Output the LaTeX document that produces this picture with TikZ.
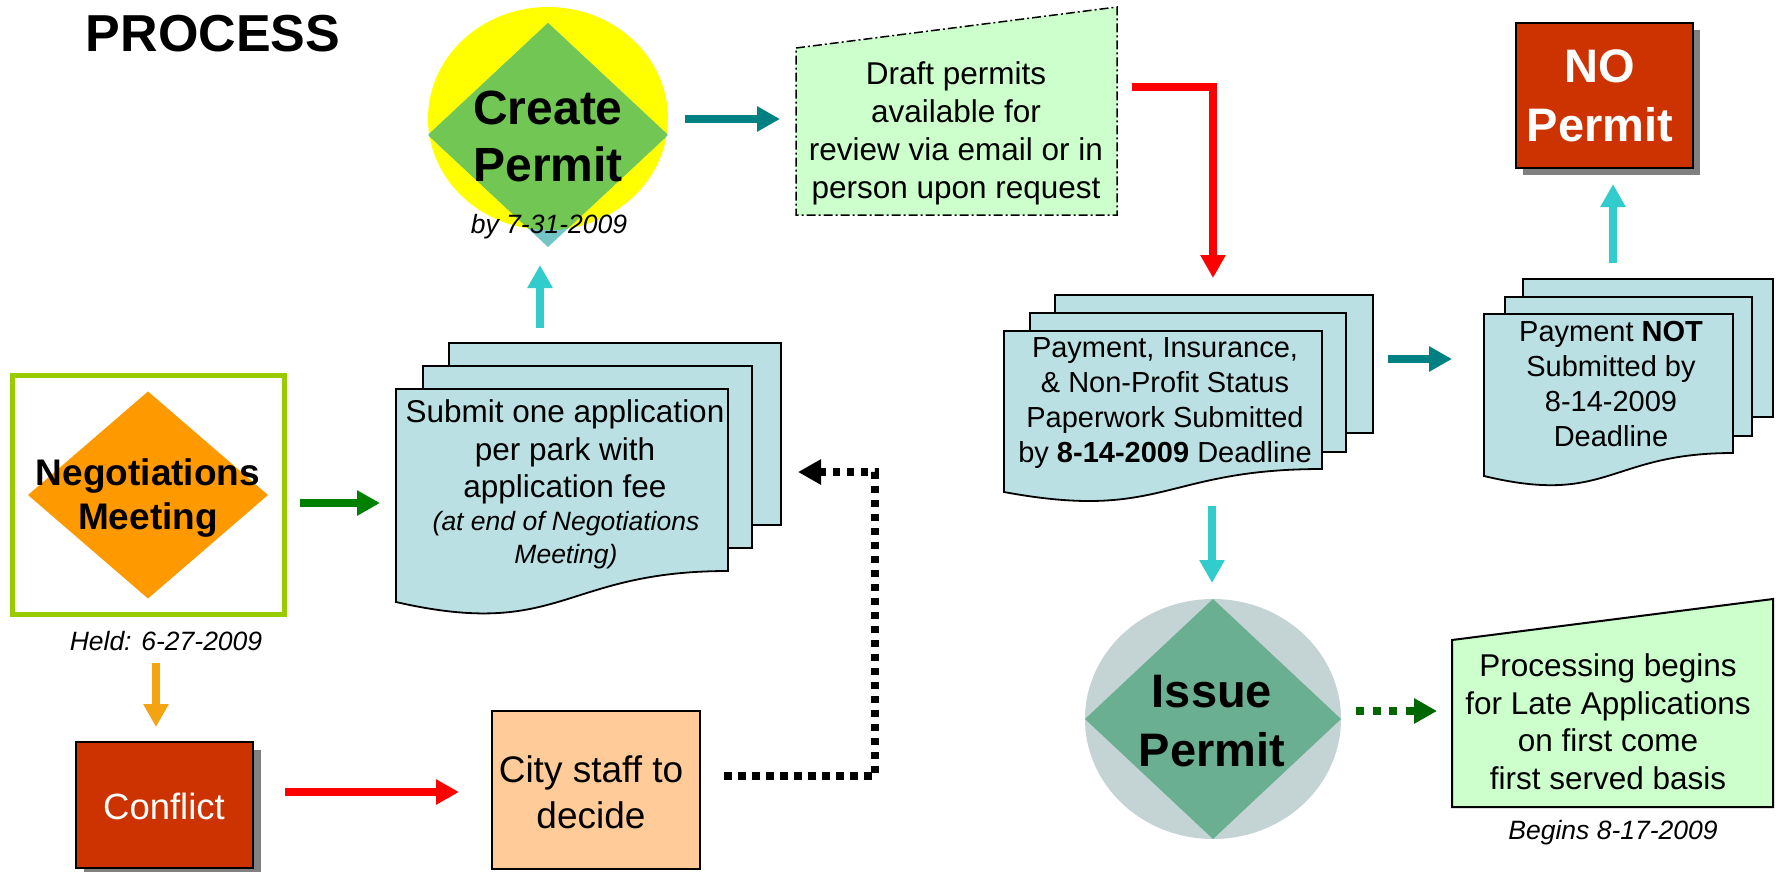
\documentclass[tikz,border=0pt]{standalone}
\usepackage{fontspec}
\setmainfont{Liberation Sans}
\usetikzlibrary{arrows.meta,shapes.geometric}
\definecolor{cpyellow}{RGB}{255,255,0}
\definecolor{cpgreen}{RGB}{114,198,83}
\definecolor{cptip}{RGB}{116,198,198}
\definecolor{tealc}{RGB}{0,128,128}
\definecolor{draftgreen}{RGB}{204,255,204}
\definecolor{docblue}{RGB}{187,224,227}
\definecolor{cyanc}{RGB}{51,204,204}
\definecolor{brick}{RGB}{204,51,0}
\definecolor{shadowgray}{RGB}{128,128,128}
\definecolor{neggreen}{RGB}{153,204,0}
\definecolor{negorange}{RGB}{255,153,0}
\definecolor{arrgreen}{RGB}{0,128,0}
\definecolor{arrorange}{RGB}{243,164,16}
\definecolor{cityfill}{RGB}{255,204,153}
\definecolor{issuegray}{RGB}{196,211,211}
\definecolor{issuegreen}{RGB}{107,175,146}
\definecolor{dkgreen}{RGB}{0,102,0}
\begin{document}
\begin{tikzpicture}[x=1pt,y=-1pt,
  blk/.style={line width=8pt,-{Triangle[width=24pt,length=23pt]}},
  dotarr/.style={line width=7.5pt,dash pattern=on 7.5pt off 6.5pt,-{Triangle[width=24pt,length=23pt]}},
  txt/.style={align=center,inner sep=0pt,text=black},
  docpg/.style={fill=docblue,draw=black,line width=1.8pt},
  plainbox/.style={draw=black,line width=1.6pt,inner sep=0pt},
  shapeonly/.style={inner sep=0pt,outer sep=0pt}]
\useasboundingbox (0,0) rectangle (1776,871);
\fill[white] (0,0) rectangle (1776,871);

% title
\node[txt,font=\fontsize{52}{60}\selectfont\bfseries] (title) at (213,34) {PROCESS};

% Create permit
\node[shapeonly,ellipse,fill=cpyellow,minimum width=240pt,minimum height=223pt] (cpell) at (548,118.5) {};
\node[shapeonly,diamond,fill=cptip,minimum width=240pt,minimum height=224pt] (cpdia) at (548,135) {};
\begin{scope}
\clip (548,118.5) ellipse [x radius=120,y radius=111.5];
\fill[cpgreen] (cpdia.north) -- (cpdia.east) -- (cpdia.south) -- (cpdia.west) -- cycle;
\end{scope}
\node[txt,font=\fontsize{48}{57}\selectfont\bfseries] (cptext) at (548,136) {Create\\Permit};
\node[txt,font=\fontsize{26.5}{30}\selectfont\itshape] (cpdate) at (549,227) {by 7-31-2009};

% Draft permits
\filldraw[fill=draftgreen,draw=black,line width=1.5pt,dash pattern=on 9pt off 3pt on 2pt off 3pt] (796,48) -- (1117,7) -- (1117,215) -- (796,215) -- cycle;
\node[txt,font=\fontsize{31.5}{38}\selectfont] (draft) at (956,133) {Draft permits\\available for\\review via email or in\\person upon request};

% NO permit
\fill[shadowgray] (1523,30) rectangle (1700,175);
\node[plainbox,fill=brick,minimum width=177pt,minimum height=145pt] (nobox) at (1604.5,95.5) {};
\node[txt,text=white,font=\fontsize{47}{59}\selectfont\bfseries] (notext) at (1600,95.5) {NO\\Permit};

% Payment stack
\draw[docpg] (1055,295) rectangle (1373,433);
\draw[docpg] (1030,313) rectangle (1346,452);
\draw[docpg] (1004,331) -- (1322,331) -- (1322,469) .. controls (1163,469) and (1163,521.5) .. (1004,492) -- cycle;
\node[txt,font=\fontsize{29}{35}\selectfont] (pay) at (1165,403) {Payment, Insurance,\\\& Non-Profit Status\\Paperwork Submitted\\by \textbf{8-14-2009} Deadline};

% Payment NOT stack
\draw[docpg] (1523,279) rectangle (1773,417);
\draw[docpg] (1505,297) rectangle (1752,436);
\draw[docpg] (1484,314) -- (1733,314) -- (1733,453) .. controls (1608.5,453) and (1608.5,506) .. (1484,476) -- cycle;
\node[txt,font=\fontsize{29}{35}\selectfont] (paynot) at (1611,384) {Payment \textbf{NOT}\\Submitted by\\8-14-2009\\Deadline};

% Negotiations
\node[shapeonly,draw=neggreen,line width=5pt,minimum width=272pt,minimum height=239pt] (negbox) at (148.5,495) {};
\node[shapeonly,diamond,fill=negorange,minimum width=240pt,minimum height=207pt] (negdia) at (148,495) {};
\node[txt,font=\fontsize{37}{44}\selectfont\bfseries] (negtxt) at (148,498.5) {Negotiations\\Meeting};
\node[txt,font=\fontsize{26.5}{30}\selectfont\itshape] (held) at (166,641) {Held: 6-27-2009};

% Submit stack
\draw[docpg] (449,343) rectangle (781,525);
\draw[docpg] (423,366) rectangle (752,548);
\draw[docpg] (396,389) -- (728,389) -- (728,571) .. controls (562,571) and (562,640) .. (396,602) -- cycle;
\node[txt,font=\fontsize{31.5}{37.5}\selectfont] (submit) at (565,452) {Submit one application\\per park with\\application fee};
\node[txt,font=\fontsize{26.5}{33}\selectfont\itshape] (submitnote) at (566,540) {(at end of Negotiations\\Meeting)};

% Conflict
\fill[shadowgray] (84,750) rectangle (261,878);
\node[plainbox,fill=brick,minimum width=177pt,minimum height=126pt] (conflict) at (164.5,805) {};
\node[txt,text=white,font=\fontsize{36.5}{44}\selectfont] (conftxt) at (164,806) {Conflict};

% City staff
\node[plainbox,fill=cityfill,minimum width=208pt,minimum height=158pt] (city) at (596,790) {};
\node[txt,font=\fontsize{37}{46}\selectfont] (citytxt) at (591,792) {City staff to\\decide};

% Issue permit
\node[shapeonly,ellipse,fill=issuegray,minimum width=256pt,minimum height=240pt] (issell) at (1213,719) {};
\node[shapeonly,diamond,fill=issuegreen,minimum width=256pt,minimum height=240pt] (issdia) at (1213,719) {};
\node[txt,font=\fontsize{47}{59}\selectfont\bfseries] (isstxt) at (1212,721) {Issue\\Permit};

% Processing
\filldraw[fill=draftgreen,draw=black,line width=2pt] (1452,640) -- (1773,599) -- (1773,807) -- (1452,807) -- cycle;
\node[txt,font=\fontsize{31.5}{37.5}\selectfont] (proc) at (1608,721.5) {Processing begins\\for Late Applications\\on first come\\first served basis};
\node[txt,font=\fontsize{26.5}{30}\selectfont\itshape] (begins) at (1613,833) {Begins 8-17-2009};

% connector end points
\coordinate (a1s) at (685,119);   \coordinate (a1e) at (780,119);
\coordinate (a2s) at (1132,87);   \coordinate (a2e) at (1213,278);
\coordinate (a3s) at (1388,359);  \coordinate (a3e) at (1452,359);
\coordinate (a4s) at (1613,263);  \coordinate (a4e) at (1613,184);
\coordinate (a5s) at (1212,506);  \coordinate (a5e) at (1212,583);
\coordinate (a6s) at (540,328);   \coordinate (a6e) at (540,265);
\coordinate (a7s) at (300,503);   \coordinate (a7e) at (380,503);
\coordinate (a8s) at (156,663);   \coordinate (a8e) at (156,727);
\coordinate (a9s) at (285,792);   \coordinate (a9e) at (459,792);
\coordinate (d1s) at (724,776);   \coordinate (d1c) at (875,472);  \coordinate (d1e) at (798,472);
\coordinate (d2s) at (1356,711);  \coordinate (d2e) at (1437,711);

\draw[blk,tealc] (a1s) -- (a1e);
\draw[blk,red,line join=miter] (a2s) -| (a2e);
\draw[blk,tealc] (a3s) -- (a3e);
\draw[blk,cyanc] (a4s) -- (a4e);
\draw[blk,cyanc] (a5s) -- (a5e);
\draw[blk,cyanc] (a6s) -- (a6e);
\draw[blk,arrgreen] (a7s) -- (a7e);
\draw[blk,arrorange] (a8s) -- (a8e);
\draw[blk,red] (a9s) -- (a9e);
\draw[dotarr,black] (d1s) -| (d1c) -- (d1e);
\draw[dotarr,dkgreen,dash pattern=on 8pt off 8.5pt] (d2s) -- (d2e);
\end{tikzpicture}
\end{document}
